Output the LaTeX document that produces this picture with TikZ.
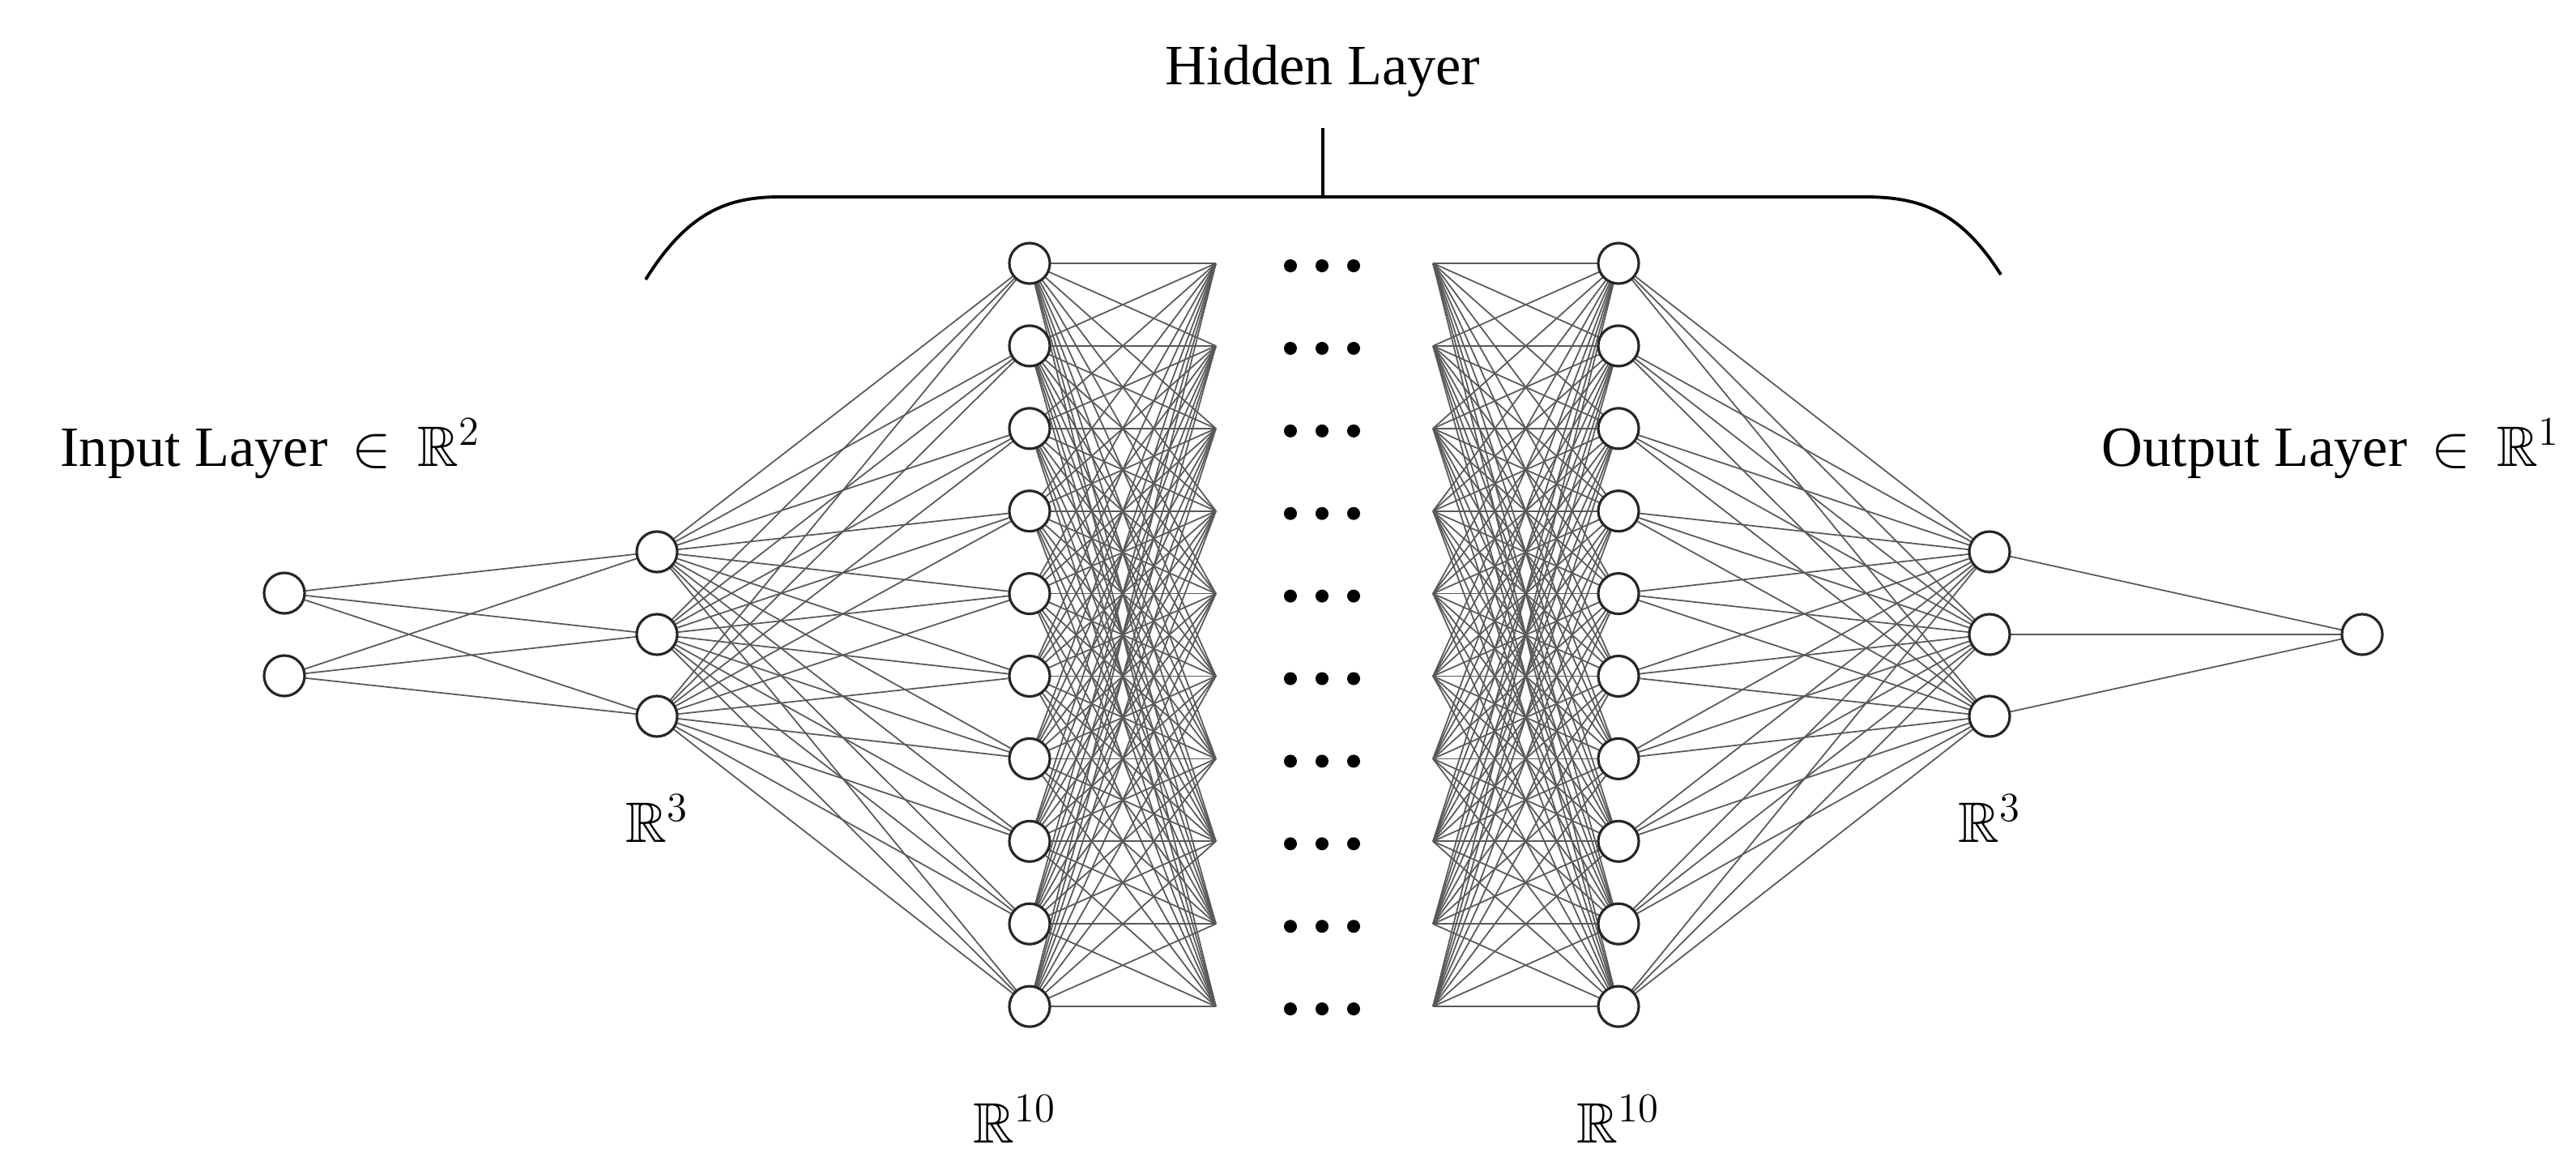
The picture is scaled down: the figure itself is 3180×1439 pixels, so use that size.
\documentclass[tikz,border=0pt]{standalone}
\usepackage{amssymb}
\usepackage{fontspec}
\setmainfont{Liberation Serif}
\begin{document}
\begin{tikzpicture}[x=0.01cm,y=-0.01cm,
  neuron/.style={circle,draw=black!85,line width=0.9pt,minimum size=0.5cm,inner sep=0pt,fill=white},
  edge/.style={draw=black!65,line width=0.5pt},
  dot/.style={circle,fill=black,inner sep=0pt,minimum width=0.13cm,minimum height=0.16cm},
  lbl/.style={font=\fontsize{20}{24}\selectfont}]
\useasboundingbox (0,0) rectangle (3180,1439);
% nodes
\foreach \i/\y in {1/732,2/834} \coordinate (I\i) at (351,\y);
\foreach \i/\y in {1/681,2/783,3/884} {\coordinate (A\i) at (811,\y); \coordinate (D\i) at (2456,\y);}
\foreach \i in {1,...,10} {
  \pgfmathsetmacro\yy{325+(\i-1)*101.9}
  \coordinate (B\i) at (1271,\yy); \coordinate (C\i) at (1998,\yy);
  \coordinate (L\i) at (1501,\yy); \coordinate (R\i) at (1769,\yy);
  \node[dot] (d\i a) at (1593,\yy+3) {};
  \node[dot] (d\i b) at (1632,\yy+3) {};
  \node[dot] (d\i c) at (1671,\yy+3) {};
}
\coordinate (O) at (2916,783);
% edges
\foreach \i in {1,2} \foreach \j in {1,2,3} \draw[edge] (I\i) -- (A\j);
\foreach \i in {1,2,3} \foreach \j in {1,...,10} {\draw[edge] (A\i) -- (B\j); \draw[edge] (C\j) -- (D\i);}
\foreach \i in {1,...,10} \foreach \j in {1,...,10} {\draw[edge] (B\i) -- (L\j); \draw[edge] (R\i) -- (C\j);}
\foreach \i in {1,2,3} \draw[edge] (D\i) -- (O);
% neurons on top
\foreach \i in {1,2} \node[neuron] (nI\i) at (I\i) {};
\foreach \i in {1,2,3} {\node[neuron] (nA\i) at (A\i) {}; \node[neuron] (nD\i) at (D\i) {};}
\foreach \i in {1,...,10} {\node[neuron] (nB\i) at (B\i) {}; \node[neuron] (nC\i) at (C\i) {};}
\node[neuron] (nO) at (O) {};
% bracket
\draw[line width=1.1pt] (797,345) .. controls (850,260) and (900,243) .. (963,243) -- (2302,243) .. controls (2370,243) and (2420,260) .. (2470,339);
\coordinate (top) at (1633,158);
\draw[line width=1.1pt] (1633,243) -- (top);
% labels
\node[lbl] (hl) at (1633,88) {Hidden Layer};
\node[lbl,anchor=west] (il) at (62,554) {Input Layer $\,\in\,\mathbb{R}^{2}$};
\node[lbl,anchor=east] (ol) at (3172,554) {Output Layer $\,\in\,\mathbb{R}^{1}$};
\node[lbl] (r1) at (811,1010) {$\mathbb{R}^{3}$};
\node[lbl] (r2) at (1253,1381) {$\mathbb{R}^{10}$};
\node[lbl] (r3) at (1998,1381) {$\mathbb{R}^{10}$};
\node[lbl] (r4) at (2456,1010) {$\mathbb{R}^{3}$};
\end{tikzpicture}
\end{document}
